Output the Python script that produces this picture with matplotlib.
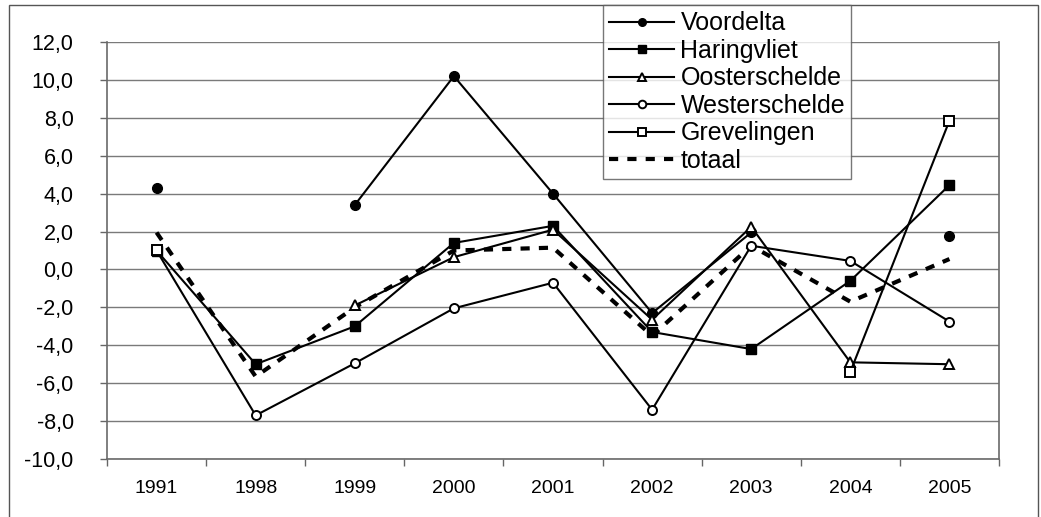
import numpy as np
import matplotlib
matplotlib.use("Agg")
import matplotlib.pyplot as plt
from matplotlib.patches import Rectangle
from matplotlib.ticker import FuncFormatter

nan = np.nan
years = ["1991", "1998", "1999", "2000", "2001", "2002", "2003", "2004", "2005"]
voordelta = [4.3, nan, 3.4, 10.2, 4.0, -2.3, 1.95, nan, 1.75]
haringvliet = [1.0, -5.0, -3.0, 1.4, 2.3, -3.3, -4.2, -0.6, 4.45]
oosterschelde = [nan, nan, -1.9, 0.65, 2.1, -2.65, 2.25, -4.9, -5.0]
westerschelde = [1.0, -7.7, -4.95, -2.05, -0.7, -7.4, 1.25, 0.45, -2.75]
grevelingen = [1.05, nan, nan, nan, nan, nan, nan, -5.4, 7.85]
totaal = [1.95, -5.65, -2.0, 1.0, 1.15, -3.5, 1.25, -1.7, 0.55]

plt.rcParams['font.family'] = ['Liberation Sans', 'DejaVu Sans']

W, H = 1041, 517
fig = plt.figure(figsize=(W / 100, H / 100), dpi=100)
ax = fig.add_axes([107 / W, 1 - 459 / H, (999 - 107) / W, (459 - 42) / H])

x = np.arange(len(years))
lw = 1.5
ax.plot(x, voordelta, '-', color='black', lw=lw, marker='o', ms=7,
        mfc='black', mec='black', label='Voordelta', zorder=5)
ax.plot(x, haringvliet, '-', color='black', lw=lw, marker='s', ms=6.5,
        mfc='black', mec='black', label='Haringvliet', zorder=5)
ax.plot(x, oosterschelde, '-', color='black', lw=lw, marker='^', ms=7.5,
        mfc='white', mec='black', mew=1.4, label='Oosterschelde', zorder=5)
ax.plot(x, westerschelde, '-', color='black', lw=lw, marker='o', ms=6.5,
        mfc='white', mec='black', mew=1.4, label='Westerschelde', zorder=5)
ax.plot(x, grevelingen, '-', color='black', lw=lw, marker='s', ms=6.5,
        mfc='white', mec='black', mew=1.4, label='Grevelingen', zorder=6)
ax.plot(x, totaal, color='black', lw=3, dashes=(2.2, 2.2),
        label='totaal', zorder=4)

ax.set_xlim(-0.5, len(years) - 0.5)
ax.set_ylim(-10, 12)
ax.set_yticks(np.arange(-10, 13, 2))
ax.yaxis.set_major_formatter(FuncFormatter(lambda v, p: f"{v:.1f}".replace('.', ',')))
ax.grid(axis='y', color='#7a7a7a', lw=1)
ax.set_axisbelow(True)

ax.set_xticks(np.arange(-0.5, len(years), 1.0))
ax.set_xticklabels([])
ax.set_xticks(x, minor=True)
ax.set_xticklabels(years, minor=True, fontsize=14)
ax.tick_params(axis='x', which='minor', length=0, pad=15)
ax.tick_params(axis='x', which='major', length=5, color='#666666', width=1)
ax.tick_params(axis='y', labelsize=15.5, length=5, color='#666666', width=1, pad=19)

for s in ['left', 'bottom', 'right', 'top']:
    ax.spines[s].set_color('#6a6a6a')
    ax.spines[s].set_linewidth(1.2)
ax.spines['top'].set_visible(False)

leg = fig.legend(loc='upper left', bbox_to_anchor=(603 / W, 1 - 5 / H),
                 bbox_transform=fig.transFigure, fontsize=18, frameon=True,
                 fancybox=False, edgecolor='#555555', handlelength=2.6,
                 labelspacing=0.14, borderpad=0.25, handletextpad=0.25,
                 borderaxespad=0)
leg.get_frame().set_linewidth(1.0)
for lh in leg.get_lines()[:5]:
    lh.set_markersize(5.5)

fig.add_artist(Rectangle((9 / W, -0.02), (1038 - 9) / W, 1 - 5 / H + 0.02,
                         transform=fig.transFigure, fill=False,
                         edgecolor='#555555', lw=1.0))

fig.savefig('out.png', dpi=100)
